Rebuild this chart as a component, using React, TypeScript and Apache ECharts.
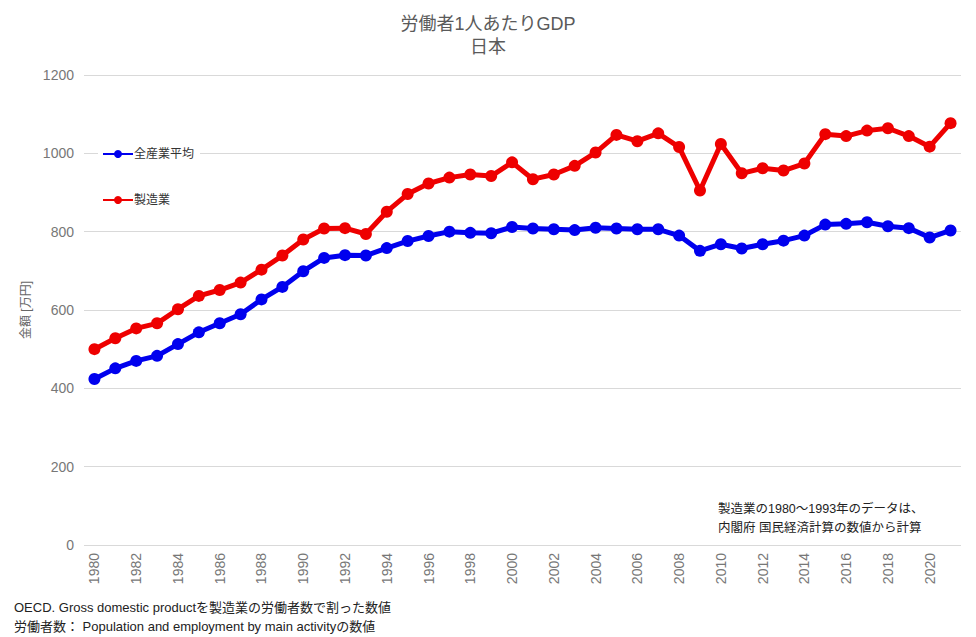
import React, { useEffect, useRef } from "react";
import * as echarts from "echarts";

const years: string[] = [];
for (let y = 1980; y <= 2021; y++) years.push(String(y));

const allIndustry = [
  424, 451, 470, 483, 513, 543, 566, 589, 627, 659,
  699, 733, 740, 739, 758, 776, 789, 800, 797, 796,
  812, 808, 806, 804, 810, 808, 806, 806, 790, 751,
  768, 757, 768, 777, 790, 818, 820, 824, 814, 809,
  785, 803,
];

const manufacturing = [
  500, 528, 553, 566, 602, 636, 651, 670, 703, 739,
  780, 808, 809, 794, 851, 896, 923, 938, 946, 942,
  977, 934, 946, 968, 1002, 1047, 1031, 1051, 1016, 905,
  1024, 949, 962, 956, 974, 1049, 1044, 1058, 1064, 1044,
  1017, 1077,
];

const seriesNames = ["全産業平均", "製造業"];
const titleText = "労働者1人あたりGDP";
const subtitleText = "日本";
const yAxisName = "金額 [万円]";
const sourceLines = [
  "OECD. Gross domestic productを製造業の労働者数で割った数値",
  "労働者数： Population and employment by main activityの数値",
];
const noteLines = ["製造業の1980～1993年のデータは、", "内閣府 国民経済計算の数値から計算"];

const FONT = "'Liberation Sans', 'Noto Sans CJK JP', sans-serif";

export default function App() {
  const ref = useRef<HTMLDivElement>(null);
  useEffect(() => {
    if (!ref.current) return;
    const chart = echarts.init(ref.current, null, { renderer: "svg" });
    chart.setOption({
      animation: false,
      backgroundColor: "#ffffff",
      textStyle: { fontFamily: FONT },
      title: {
        text: titleText,
        subtext: subtitleText,
        left: "center",
        top: 10,
        itemGap: 5,
        textStyle: { fontSize: 18, fontWeight: "normal", color: "#5a5a5a", fontFamily: FONT },
        subtextStyle: { fontSize: 18, color: "#5a5a5a", fontFamily: FONT },
      },
      legend: {
        orient: "vertical",
        left: 98,
        top: 146,
        itemGap: 34,
        itemWidth: 30,
        itemHeight: 10,
        backgroundColor: "#ffffff",
        padding: [2, 6, 2, 4],
        textStyle: { fontSize: 12, color: "#333", fontFamily: FONT, padding: [0, 0, 0, -4] },
        data: seriesNames,
      },
      grid: { left: 84, right: 15, top: 75, bottom: 92, containLabel: false },
      xAxis: {
        type: "category",
        data: years,
        boundaryGap: true,
        axisLine: { show: false },
        axisTick: { show: false },
        axisLabel: {
          interval: 1,
          rotate: 90,
          fontSize: 14,
          color: "#777",
          margin: 8,
          fontFamily: FONT,
        },
      },
      yAxis: {
        type: "value",
        min: 0,
        max: 1200,
        interval: 200,
        name: yAxisName,
        nameLocation: "middle",
        nameGap: 52,
        nameRotate: 90,
        nameTextStyle: { fontSize: 12, color: "#666", fontFamily: FONT },
        axisLine: { show: false },
        axisTick: { show: false },
        splitLine: { lineStyle: { color: "#d9d9d9", width: 1 } },
        axisLabel: {
          fontSize: 14,
          color: "#777",
          margin: 10,
          fontFamily: FONT,
          formatter: (v: number) => String(v),
        },
      },
      series: [
        {
          name: seriesNames[0],
          type: "line",
          data: allIndustry,
          symbol: "circle",
          symbolSize: 12,
          lineStyle: { width: 5, color: "#0000ee" },
          itemStyle: { color: "#0000ee" },
        },
        {
          name: seriesNames[1],
          type: "line",
          data: manufacturing,
          symbol: "circle",
          symbolSize: 12,
          lineStyle: { width: 5, color: "#ee0000" },
          itemStyle: { color: "#ee0000" },
        },
      ],
      graphic: [
        {
          type: "text",
          left: 14,
          top: 598,
          style: { text: sourceLines.join("\n"), fontSize: 13, lineHeight: 19, fill: "#222", fontFamily: FONT },
        },
        {
          type: "text",
          left: 718,
          top: 499,
          style: { text: noteLines.join("\n"), fontSize: 12.5, lineHeight: 19, fill: "#222", fontFamily: FONT },
        },
      ],
    });
    return () => chart.dispose();
  }, []);
  return (
    <div
      ref={ref}
      style={{ position: "absolute", left: 0, top: 0, width: 976, height: 637 }}
    />
  );
}
